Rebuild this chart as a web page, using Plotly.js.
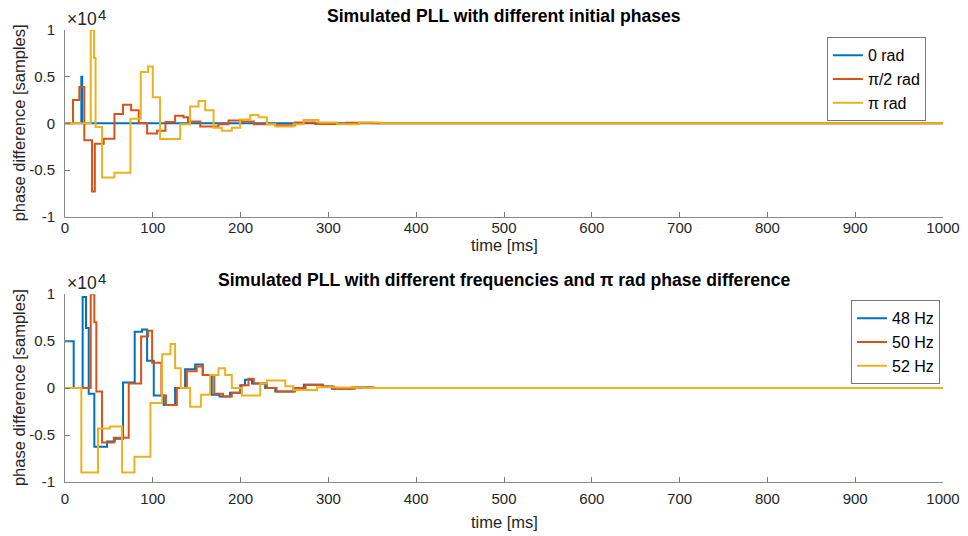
<!DOCTYPE html>
<html>
<head>
<meta charset="utf-8">
<script src="https://cdn.plot.ly/plotly-3.0.1.min.js"></script>
<style>
html,body{margin:0;padding:0;background:#fff;}
#chart{width:968px;height:536px;}
</style>
</head>
<body>
<div id="chart"></div>
<script>
// ---------- data (phase difference in samples, time in ms; step signals) ----------
const topTitle = "Simulated PLL with different initial phases";
const bottomTitle = "Simulated PLL with different frequencies and \u03c0 rad phase difference";
const topNames = ["0 rad", "\u03c0/2 rad", "\u03c0 rad"];
const bottomNames = ["48 Hz", "50 Hz", "52 Hz"];
const xTickVals = [0, 100, 200, 300, 400, 500, 600, 700, 800, 900, 1000];
const yTickVals = [-10000, -5000, 0, 5000, 10000];
const yTickText = ["-1", "-0.5", "0", "0.5", "1"];

// top: 0 rad
const tTop0 = [0, 18.6, 19.6, 1000];
const vTop0 = [0, 5000, 0, 0];
// top: pi/2 rad
const tTopHalf = [0, 9.1, 16.3, 22, 30.8, 34, 44.1, 56.3, 66.1, 75.3, 84, 93.5, 104.9, 114.4, 125.4, 134.9, 140, 154, 174.8, 186.3, 201.5, 215, 240, 262, 285, 320, 350, 1000];
const vTopHalf = [0, 2500, 3900, -1800, -7300, -2200, -1650, 1000, 2000, 1400, 0, -1100, -800, 150, 800, 650, 200, -350, -100, 300, 200, -100, -200, 100, -80, 60, 0, 0];
// top: pi rad
const tTopPi = [0, 29.3, 33.1, 34.8, 42.2, 56.3, 74.5, 86.3, 94.6, 100, 108.3, 131.2, 142.5, 152, 159.7, 169.2, 178.6, 190, 199.5, 211, 220.5, 230, 239.4, 260.3, 271.7, 288.8, 310, 335, 360, 1000];
const vTopPi = [0, 10000, 7000, -400, -5800, -5300, 500, 5500, 6100, 2800, -1670, -100, 1800, 2400, 1400, -460, -800, -460, 400, 900, 640, -100, -350, -100, 350, 100, -100, 80, 0, 0];

// bottom: 48 Hz
const t48 = [0, 9.9, 20.1, 23.9, 27, 33.4, 47.9, 56.6, 66.1, 79.4, 87.8, 93.5, 101.1, 112.5, 125.4, 136.8, 148.2, 156.9, 167.2, 176, 188, 199.6, 205, 213, 228, 239.5, 260, 272, 292.8, 304, 327, 350, 1000];
const v48 = [5000, 0, 9700, 6400, -600, -6250, -5700, -5400, 600, 6000, 6250, 2900, -800, -1800, 0, 2000, 2500, 1400, -700, -900, -500, 300, 900, 500, 0, -350, 0, 350, 180, -70, 70, 0, 0];
// bottom: 50 Hz
const t50 = [0, 29.3, 33.4, 35.7, 42.2, 55.5, 72.6, 86.7, 94.6, 99.2, 109.8, 115, 127.4, 138.8, 150, 156.9, 170, 180, 190, 201, 209, 215, 230, 241, 262, 274, 294, 306, 330, 352, 1000];
const v50 = [0, 10000, 7000, -350, -5800, -5300, 500, 5500, 6100, 2700, -800, -1800, 0, 1800, 2300, 1400, -600, -900, -500, 300, 1000, 500, 0, -350, 0, 350, 180, -70, 70, 0, 0];
// bottom: 52 Hz
const t52 = [0, 18.6, 37.6, 51, 65, 79.1, 97.3, 110.6, 120.1, 125.4, 131.9, 142.5, 154.7, 165.3, 174.8, 182.4, 190, 201.4, 222.3, 230, 251, 260, 287, 310, 340, 1000];
const v52 = [0, -9000, -4300, -4100, -9000, -7300, -1600, 3600, 4700, 2100, 0, -2000, -700, 1400, 2100, 1400, 0, -800, 500, 800, 200, -200, 100, 50, 0, 0];

// ---------- styling ----------
const colors = ["#0072BD", "#D95319", "#EDB120"];
const FONT = "Liberation Sans, Arial, Helvetica, sans-serif";
const TXT = "#262626";

function stepTrace(x, y, name, color, xa, ya, leg) {
  return {
    x: x, y: y, name: name, type: "scatter", mode: "lines",
    line: {color: color, width: 2, shape: "hv"},
    xaxis: xa, yaxis: ya, legend: leg, hoverinfo: "skip"
  };
}

const traces = [
  stepTrace(tTop0, vTop0, topNames[0], colors[0], "x", "y", "legend"),
  stepTrace(tTopHalf, vTopHalf, topNames[1], colors[1], "x", "y", "legend"),
  stepTrace(tTopPi, vTopPi, topNames[2], colors[2], "x", "y", "legend"),
  stepTrace(t48, v48, bottomNames[0], colors[0], "x2", "y2", "legend2"),
  stepTrace(t50, v50, bottomNames[1], colors[1], "x2", "y2", "legend2"),
  stepTrace(t52, v52, bottomNames[2], colors[2], "x2", "y2", "legend2")
];

function xAxis(anchor, standoff) {
  return {
    anchor: anchor, domain: [0, 1], range: [0, 1000],
    tickvals: xTickVals, ticktext: xTickVals.map(String),
    ticks: "inside", ticklen: 5, tickcolor: "#7a7a7a", tickwidth: 1,
    showline: true, linecolor: "#8a8a8a", linewidth: 1, mirror: false,
    showgrid: false, zeroline: false, ticklabelstandoff: standoff,
    tickfont: {family: FONT, size: 15, color: TXT}
  };
}
function yAxis(anchor, dom) {
  return {
    anchor: anchor, domain: dom, range: [-10000, 10000],
    tickvals: yTickVals, ticktext: yTickText,
    ticks: "inside", ticklen: 5, tickcolor: "#7a7a7a", tickwidth: 1,
    showline: true, linecolor: "#8a8a8a", linewidth: 1, mirror: false,
    showgrid: false, zeroline: false, ticklabelstandoff: 6,
    tickfont: {family: FONT, size: 15, color: TXT}
  };
}

function legendCfg(xr, yt) {
  return {
    x: xr, xanchor: "right", y: yt, yanchor: "top",
    xref: "paper", yref: "paper",
    bgcolor: "#ffffff", bordercolor: "#777777", borderwidth: 1,
    font: {family: FONT, size: 16, color: "#000000"},
    itemwidth: 30, tracegroupgap: 0
  };
}

function expLabels(xr, yr) {
  return [
    {text: "\u00d710", xref: xr, yref: yr, x: 0, y: 1, xanchor: "left", yanchor: "bottom", xshift: 0, yshift: -1, showarrow: false, font: {family: FONT, size: 17.5, color: TXT}},
    {text: "4", xref: xr, yref: yr, x: 0, y: 1, xanchor: "left", yanchor: "bottom", xshift: 31, yshift: 5, showarrow: false, font: {family: FONT, size: 15, color: TXT}}
  ];
}

const annotations = [
  // titles
  {text: "<b>" + topTitle + "</b>", xref: "x domain", yref: "y domain", x: 0.5, y: 1, xanchor: "center", yanchor: "bottom", yshift: 2, showarrow: false, font: {family: FONT, size: 17.6, color: "#000"}},
  {text: "<b>" + bottomTitle + "</b>", xref: "x2 domain", yref: "y2 domain", x: 0.5, y: 1, xanchor: "center", yanchor: "bottom", yshift: 2, showarrow: false, font: {family: FONT, size: 17.6, color: "#000"}},
  // x axis titles
  {text: "time [ms]", xref: "x domain", yref: "y domain", x: 0.5, y: 0, xanchor: "center", yanchor: "top", yshift: -17, showarrow: false, font: {family: FONT, size: 16.5, color: TXT}},
  {text: "time [ms]", xref: "x2 domain", yref: "y2 domain", x: 0.5, y: 0, xanchor: "center", yanchor: "top", yshift: -29, showarrow: false, font: {family: FONT, size: 16.5, color: TXT}},
  // y axis titles
  {text: "phase difference [samples]", xref: "paper", yref: "y domain", x: 0, y: 0.5, xanchor: "center", yanchor: "middle", xshift: -46, textangle: -90, showarrow: false, font: {family: FONT, size: 16.5, color: TXT}},
  {text: "phase difference [samples]", xref: "paper", yref: "y2 domain", x: 0, y: 0.5, xanchor: "center", yanchor: "middle", xshift: -46, textangle: -90, showarrow: false, font: {family: FONT, size: 16.5, color: TXT}}
].concat(expLabels("x domain", "y domain"), expLabels("x2 domain", "y2 domain"));

const layout = {
  width: 968, height: 536,
  margin: {l: 65, r: 25, t: 29.5, b: 54, pad: 0},
  paper_bgcolor: "#ffffff", plot_bgcolor: "#ffffff",
  font: {family: FONT, size: 15, color: TXT},
  showlegend: true,
  xaxis: xAxis("y", -3),
  yaxis: yAxis("x", [0.587, 1]),
  xaxis2: xAxis("y2", 3),
  yaxis2: yAxis("x2", [0, 0.4155]),
  legend: legendCfg(0.9805, 0.984),
  legend2: legendCfg(0.9966, 0.402),
  annotations: annotations
};

Plotly.newPlot("chart", traces, layout, {staticPlot: true, displayModeBar: false});
</script>
</body>
</html>
